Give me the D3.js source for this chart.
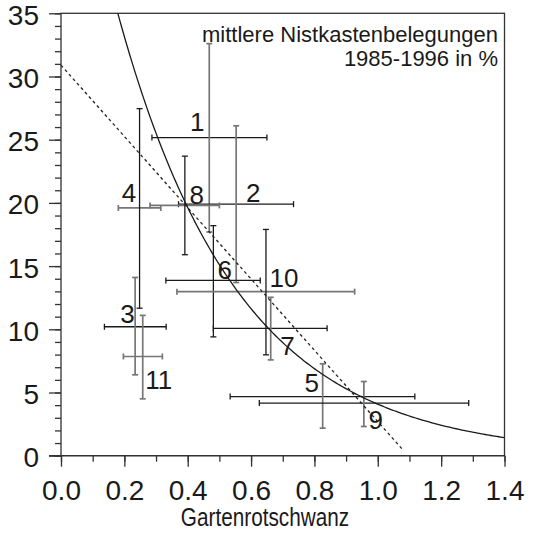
<!DOCTYPE html>
<html>
<head>
<meta charset="utf-8">
<script src="https://cdn.jsdelivr.net/npm/d3@7"></script>
<style>
    body { margin: 0; background: #fff; }
    svg { display: block; font-family: "Liberation Sans", Arial, sans-serif; }
</style>
</head>
<body>
<div id="chart"></div>
<script>
// mean values and ranges per site
const SITE_IDS = [1, 2, 3, 4, 5, 6, 7, 8, 9, 10, 11];
const X_MEAN = [0.468, 0.553, 0.234, 0.248, 0.826, 0.481, 0.662, 0.391, 0.956, 0.647, 0.258];
const X_LOW  = [0.287, 0.371, 0.137, 0.181, 0.534, 0.331, 0.481, 0.281, 0.626, 0.366, 0.197];
const X_HIGH = [0.650, 0.734, 0.332, 0.315, 1.117, 0.629, 0.840, 0.500, 1.287, 0.927, 0.320];
const Y_MEAN = [25.17, 19.9, 10.2, 19.6, 4.68, 13.87, 10.08, 19.8, 4.16, 12.98, 7.85];
const Y_LOW  = [17.7, 13.7, 6.4, 11.67, 2.18, 9.4, 7.58, 15.9, 2.31, 7.98, 4.5];
const Y_HIGH = [32.6, 26.1, 14.1, 27.46, 7.27, 18.2, 12.53, 23.7, 5.87, 17.9, 11.1];

// fitted curves
const LIN_INTERCEPT = 30.9, LIN_SLOPE = -28.2, LIN_XMAX = 1.082;
const EXP_A = 56, EXP_B = 2.62;

const X_TICKS = [0, 0.2, 0.4, 0.6, 0.8, 1.0, 1.2, 1.4];
const Y_TICKS = [0, 5, 10, 15, 20, 25, 30, 35];

// bar colours (h = horizontal, v = vertical) and label offsets in px
const BLACK = "#1a1a1a", GREY = "#767676";
const H_COLOR = [BLACK, BLACK, BLACK, GREY, BLACK, BLACK, BLACK, GREY, BLACK, GREY, GREY];
const V_COLOR = [GREY, GREY, GREY, BLACK, GREY, BLACK, GREY, BLACK, GREY, BLACK, GREY];
const LABEL_DX = [-12, 17, -7.6, -10.6, -11, 11.3, 16.8, 11.8, 12, 18, 16];
const LABEL_DY = [-6.6, -2.5, -4, -5.7, -5, -1.4, 26.7, -1, 26, -5, 32.8];

var width = 534, height = 533;
var svg = d3.select("#chart").append("svg")
    .attr("width", width)
    .attr("height", height);

var x = d3.scaleLinear().domain([0, 1.4]).range([61, 504.5]);
var y = d3.scaleLinear().domain([0, 35]).range([455.7, 13.3]);

// frame
svg.append("rect")
    .attr("x", x(0)).attr("y", y(35))
    .attr("width", x(1.4) - x(0)).attr("height", y(0) - y(35))
    .attr("fill", "none").attr("stroke", "#333").attr("stroke-width", 1.3);

// minor ticks
svg.append("g")
    .attr("transform", "translate(0," + y(0) + ")")
    .call(d3.axisBottom(x).tickValues(d3.range(0, 15).map(function (i) { return i / 10; }))
        .tickSize(6).tickFormat(""))
    .call(function (g) { g.select(".domain").remove(); });
svg.append("g")
    .attr("transform", "translate(" + x(0) + ",0)")
    .call(d3.axisLeft(y).tickValues(d3.range(0, 36)).tickSize(6).tickFormat(""))
    .call(function (g) { g.select(".domain").remove(); });

// major ticks with labels
var xAxis = svg.append("g")
    .attr("transform", "translate(0," + y(0) + ")")
    .call(d3.axisBottom(x).tickValues(X_TICKS).tickSize(11).tickPadding(13)
        .tickFormat(d3.format(".1f")));
xAxis.select(".domain").attr("d", "M" + (x(0) - 12) + ",0H" + x(1.4));
xAxis.selectAll("text").attr("font-size", 28).attr("fill", "#1a1a1a")
    .attr("font-family", "Liberation Sans, Arial, sans-serif");

var yAxis = svg.append("g")
    .attr("transform", "translate(" + x(0) + ",0)")
    .call(d3.axisLeft(y).tickValues(Y_TICKS).tickSize(12).tickPadding(10));
yAxis.select(".domain").remove();
yAxis.selectAll("text").attr("font-size", 28).attr("fill", "#1a1a1a")
    .attr("dy", "0.39em")
    .attr("font-family", "Liberation Sans, Arial, sans-serif");

svg.selectAll(".tick line").attr("stroke", "#333").attr("stroke-width", 1.3);
svg.selectAll(".domain").attr("stroke", "#333").attr("stroke-width", 1.3);

// axis title, narrow like the original
svg.append("text")
    .attr("transform", "translate(265,526) scale(0.83,1)")
    .attr("text-anchor", "middle")
    .attr("font-size", 25)
    .attr("fill", "#1a1a1a")
    .text("Gartenrotschwanz");

// legend text
svg.append("text")
    .attr("x", 498).attr("y", 42)
    .attr("text-anchor", "end")
    .attr("font-size", 22)
    .attr("fill", "#1a1a1a")
    .text("mittlere Nistkastenbelegungen");
svg.append("text")
    .attr("x", 498).attr("y", 65.5)
    .attr("text-anchor", "end")
    .attr("font-size", 22)
    .attr("fill", "#1a1a1a")
    .text("1985-1996 in %");

var sites = SITE_IDS.map(function (id, i) {
    return {
        id: id, x: X_MEAN[i], xl: X_LOW[i], xh: X_HIGH[i],
        y: Y_MEAN[i], yl: Y_LOW[i], yh: Y_HIGH[i],
        hc: H_COLOR[i], vc: V_COLOR[i], dx: LABEL_DX[i], dy: LABEL_DY[i]
    };
});

var CAP = 3;
var bars = svg.append("g");

sites.forEach(function (d) {
    var hw = d.hc === GREY ? 1.7 : 1.3;
    var vw = d.vc === GREY ? 1.7 : 1.3;
    var h = bars.append("g").attr("stroke", d.hc).attr("stroke-width", hw).attr("fill", "none");
    h.append("line").attr("x1", x(d.xl)).attr("x2", x(d.xh)).attr("y1", y(d.y)).attr("y2", y(d.y));
    h.append("line").attr("x1", x(d.xl)).attr("x2", x(d.xl)).attr("y1", y(d.y) - CAP).attr("y2", y(d.y) + CAP);
    h.append("line").attr("x1", x(d.xh)).attr("x2", x(d.xh)).attr("y1", y(d.y) - CAP).attr("y2", y(d.y) + CAP);

    var v = bars.append("g").attr("stroke", d.vc).attr("stroke-width", vw).attr("fill", "none");
    v.append("line").attr("x1", x(d.x)).attr("x2", x(d.x)).attr("y1", y(d.yl)).attr("y2", y(d.yh));
    v.append("line").attr("x1", x(d.x) - CAP).attr("x2", x(d.x) + CAP).attr("y1", y(d.yl)).attr("y2", y(d.yl));
    v.append("line").attr("x1", x(d.x) - CAP).attr("x2", x(d.x) + CAP).attr("y1", y(d.yh)).attr("y2", y(d.yh));
});

// fitted lines
var linePts = [[0, LIN_INTERCEPT], [LIN_XMAX, LIN_INTERCEPT + LIN_SLOPE * LIN_XMAX]];
svg.append("path")
    .attr("d", d3.line().x(function (p) { return x(p[0]); }).y(function (p) { return y(p[1]); })(linePts))
    .attr("fill", "none").attr("stroke", "#222").attr("stroke-width", 1.3)
    .attr("stroke-dasharray", "3,3");

var xStart = Math.log(EXP_A / 35) / EXP_B;
var expPts = d3.range(0, 201).map(function (i) {
    var xv = xStart + (1.4 - xStart) * i / 200;
    return [xv, EXP_A * Math.exp(-EXP_B * xv)];
});
svg.append("path")
    .attr("d", d3.line().x(function (p) { return x(p[0]); }).y(function (p) { return y(p[1]); })(expPts))
    .attr("fill", "none").attr("stroke", "#1a1a1a").attr("stroke-width", 1.3);

// site labels
svg.append("g").selectAll("text")
    .data(sites)
    .enter()
    .append("text")
    .attr("x", function (d) { return x(d.x) + d.dx; })
    .attr("y", function (d) { return y(d.y) + d.dy; })
    .attr("text-anchor", "middle")
    .attr("font-size", 26)
    .attr("fill", "#1a1a1a")
    .text(function (d) { return d.id; });
</script>
</body>
</html>
